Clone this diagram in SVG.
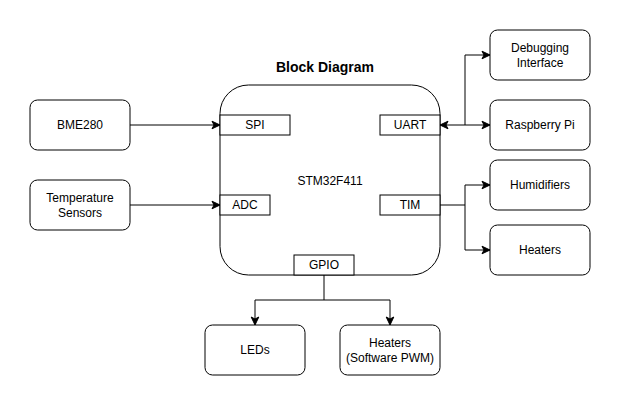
<svg xmlns="http://www.w3.org/2000/svg" width="621" height="406" viewBox="0 0 621 406">
<style>
.box{fill:#fff;stroke:#000;stroke-width:1}
.t{font-family:"Liberation Sans",Arial,sans-serif;font-size:12px;fill:#000;text-anchor:middle;dominant-baseline:central}
.title{font-family:"Liberation Sans",Arial,sans-serif;font-size:14px;font-weight:bold;fill:#000;text-anchor:middle}
.c{fill:none;stroke:#000;stroke-width:1}
</style>
<defs>
<marker id="arr" markerUnits="userSpaceOnUse" markerWidth="10" markerHeight="10" viewBox="-9 -5 10 10" refX="0" refY="0" orient="auto-start-reverse">
<path d="M0,0 L-8,-3.8 L-6,0 L-8,3.8 Z" fill="#000" stroke="#000" stroke-width="1" stroke-linejoin="miter"/>
</marker>
</defs>
<rect width="621" height="406" fill="#fff"/>
<text class="title" x="325" y="72">Block Diagram</text>
<g id="stm32">
<rect class="box" x="220" y="85" width="220" height="190" rx="28.5" ry="28.5"/>
<text class="t" x="330" y="181">STM32F411</text>
</g>
<g id="spi"><rect class="box" x="220" y="115" width="70" height="20"/><text class="t" x="255" y="125">SPI</text></g>
<g id="adc"><rect class="box" x="220" y="195" width="50" height="20"/><text class="t" x="245" y="205">ADC</text></g>
<g id="uart"><rect class="box" x="380" y="115" width="60" height="20"/><text class="t" x="410" y="125">UART</text></g>
<g id="tim"><rect class="box" x="380" y="195" width="60" height="20"/><text class="t" x="410" y="205">TIM</text></g>
<g id="gpio"><rect class="box" x="294" y="255" width="60" height="20"/><text class="t" x="324" y="265">GPIO</text></g>
<g id="bme280"><rect class="box" x="30" y="100" width="100" height="50" rx="7.5"/><text class="t" x="80" y="125">BME280</text></g>
<g id="temp"><rect class="box" x="30" y="180" width="100" height="50" rx="7.5"/><text class="t" x="80" y="197.5">Temperature</text><text class="t" x="80" y="212.5">Sensors</text></g>
<g id="debug"><rect class="box" x="490" y="30" width="100" height="50" rx="7.5"/><text class="t" x="540" y="47.5">Debugging</text><text class="t" x="540" y="62.5">Interface</text></g>
<g id="rpi"><rect class="box" x="490" y="100" width="100" height="50" rx="7.5"/><text class="t" x="540" y="125">Raspberry Pi</text></g>
<g id="humid"><rect class="box" x="490" y="160" width="100" height="50" rx="7.5"/><text class="t" x="540" y="185">Humidifiers</text></g>
<g id="heaters"><rect class="box" x="490" y="225" width="100" height="50" rx="7.5"/><text class="t" x="540" y="250">Heaters</text></g>
<g id="leds"><rect class="box" x="205" y="325" width="100" height="50" rx="7.5"/><text class="t" x="255" y="350">LEDs</text></g>
<g id="heaters-pwm"><rect class="box" x="340" y="325" width="100" height="50" rx="7.5"/><text class="t" x="390" y="342.5">Heaters</text><text class="t" x="390" y="357.5">(Software PWM)</text></g>
<g id="connectors">
<path class="c" d="M130,125 L220,125" marker-end="url(#arr)"/>
<path class="c" d="M130,205 L220,205" marker-end="url(#arr)"/>
<path class="c" d="M440,125 L490,125" marker-start="url(#arr)" marker-end="url(#arr)"/>
<path class="c" d="M465,125 L465,55 L490,55" marker-end="url(#arr)"/>
<path class="c" d="M440,205 L465,205 L465,185 L490,185" marker-end="url(#arr)"/>
<path class="c" d="M465,205 L465,250 L490,250" marker-end="url(#arr)"/>
<path class="c" d="M324,275 L324,300 L255,300 L255,325" marker-end="url(#arr)"/>
<path class="c" d="M324,300 L390,300 L390,325" marker-end="url(#arr)"/>
</g>
</svg>
